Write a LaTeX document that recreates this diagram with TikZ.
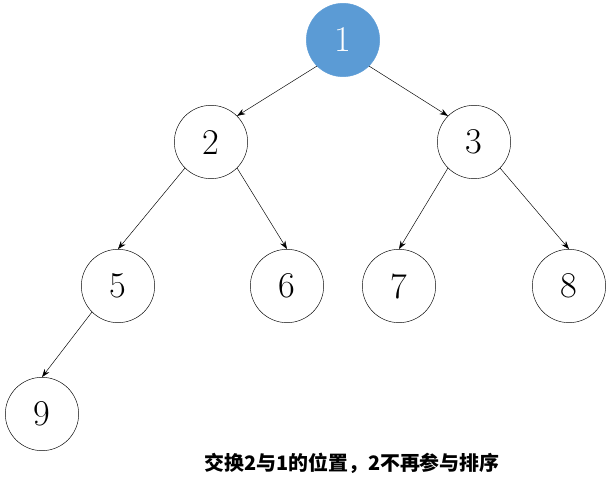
\documentclass[tikz,border=0pt]{standalone}
\usepackage{fontspec}
\newfontfamily\cjk{Noto Sans CJK SC}
\usetikzlibrary{arrows.meta}
\definecolor{heapblue}{HTML}{5B9BD5}
\begin{document}
\begin{tikzpicture}[x=0.03cm,y=-0.03cm]
\tikzstyle{vertex}=[circle, draw, thin, fill=white, minimum size=2.2cm, inner sep=0pt, font=\fontsize{31}{34}\selectfont]
\tikzstyle{top}=[vertex, draw=heapblue, fill=heapblue, text=white]
\tikzstyle{tree-edge}=[-{Stealth[length=7pt,width=5pt]}, thin]
\useasboundingbox (0,0) rectangle (613,487);

\node[top] (N1) at (343,40) {1};
\node[vertex] (N2) at (211,142) {2};
\node[vertex] (N3) at (474,142) {3};
\node[vertex] (N5) at (118,286) {5};
\node[vertex] (N6) at (287,286) {6};
\node[vertex] (N7) at (399,286) {7};
\node[vertex] (N8) at (569,286) {8};
\node[vertex] (N9) at (42,414) {9};

\draw[style=tree-edge] (N1.south west) -- (N2.north east);
\draw[style=tree-edge] (N1.south east) -- (N3.north west);
\draw[style=tree-edge] (N2.south west) -- (N5.north);
\draw[style=tree-edge] (N2.south east) -- (N6.north);
\draw[style=tree-edge] (N3.south west) -- (N7.north);
\draw[style=tree-edge] (N3.south east) -- (N8.north);
\draw[style=tree-edge] (N5.south west) -- (N9.north);

\node[font=\cjk\bfseries\fontsize{17}{20}\selectfont] (caption) at (352,463) {交换2与1的位置，2不再参与排序};
\end{tikzpicture}
\end{document}
